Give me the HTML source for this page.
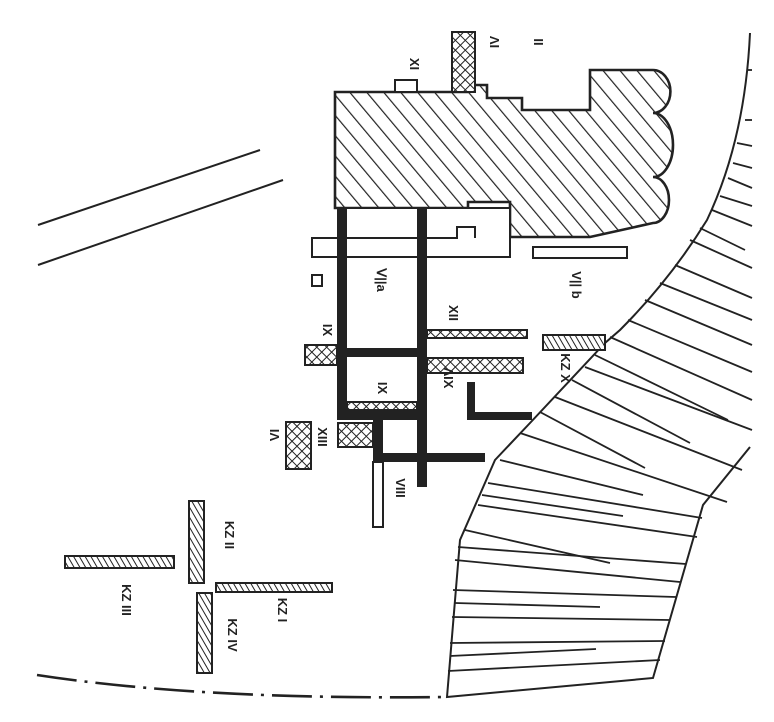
<!DOCTYPE html>
<html><head><meta charset="utf-8"><style>
html,body{margin:0;padding:0;background:#fff}
svg{display:block}
text{font-family:"Liberation Sans",sans-serif;font-weight:bold;font-size:13px;fill:#222}
</style></head><body>
<svg width="774" height="722" viewBox="0 0 774 722" xmlns="http://www.w3.org/2000/svg">
<defs>
<pattern id="diag" patternUnits="userSpaceOnUse" width="13" height="13" patternTransform="rotate(-40)">
<rect width="13" height="13" fill="#fff"/><line x1="0" y1="0" x2="0" y2="13" stroke="#222" stroke-width="2.4"/></pattern>
<pattern id="diag2" patternUnits="userSpaceOnUse" width="5" height="5" patternTransform="rotate(-30)">
<rect width="5" height="5" fill="#fff"/><line x1="0" y1="0" x2="0" y2="5" stroke="#222" stroke-width="2"/></pattern>
<pattern id="cross" patternUnits="userSpaceOnUse" width="7" height="7" patternTransform="rotate(45)">
<rect width="7" height="7" fill="#fff"/><line x1="0" y1="0" x2="0" y2="7" stroke="#222" stroke-width="2"/><line x1="0" y1="0" x2="7" y2="0" stroke="#222" stroke-width="2"/></pattern>
</defs>
<g stroke="#222" fill="none" stroke-width="2">
<line x1="38" y1="225" x2="260" y2="150"/>
<line x1="38" y1="265" x2="283" y2="180"/>
<path d="M37 675 Q200 700 445 697" stroke-dasharray="40 8 3 8" stroke-width="2.6"/>
<path d="M750 33 Q745 140 707 220 Q670 280 620 330 L605 343 L530 423 L495 460 L460 540 L447 697 L653 678 L703 505 L750 447" />
<g stroke-width="1.8">
<line x1="748" y1="70" x2="752" y2="70"/>
<line x1="745" y1="120" x2="752" y2="120"/>
<line x1="737" y1="143" x2="752" y2="146"/>
<line x1="733" y1="163" x2="752" y2="168"/>
<line x1="728" y1="178" x2="752" y2="188"/>
<line x1="720" y1="196" x2="752" y2="206"/>
<line x1="712" y1="210" x2="752" y2="226"/>
<line x1="700" y1="228" x2="745" y2="250"/>
<line x1="690" y1="240" x2="752" y2="268"/>
<line x1="675" y1="265" x2="752" y2="298"/>
<line x1="660" y1="283" x2="752" y2="320"/>
<line x1="645" y1="300" x2="752" y2="345"/>
<line x1="628" y1="320" x2="752" y2="372"/>
<line x1="610" y1="337" x2="752" y2="400"/>
<line x1="595" y1="355" x2="728" y2="420"/>
<line x1="585" y1="367" x2="752" y2="430"/>
<line x1="572" y1="380" x2="690" y2="443"/>
<line x1="555" y1="397" x2="742" y2="470"/>
<line x1="540" y1="412" x2="645" y2="468"/>
<line x1="520" y1="433" x2="727" y2="502"/>
<line x1="500" y1="460" x2="643" y2="495"/>
<line x1="488" y1="483" x2="702" y2="518"/>
<line x1="482" y1="495" x2="623" y2="516"/>
<line x1="478" y1="505" x2="697" y2="537"/>
<line x1="465" y1="530" x2="610" y2="563"/>
<line x1="458" y1="547" x2="686" y2="564"/>
<line x1="455" y1="560" x2="680" y2="582"/>
<line x1="453" y1="590" x2="676" y2="597"/>
<line x1="455" y1="603" x2="600" y2="607"/>
<line x1="452" y1="617" x2="670" y2="620"/>
<line x1="450" y1="643" x2="665" y2="641"/>
<line x1="450" y1="656" x2="596" y2="649"/>
<line x1="448" y1="671" x2="660" y2="660"/>
</g>
<path fill="url(#diag)" stroke-width="2.6" d="M335 92 L468 92 L468 85 L487 85 L487 98 L522 98 L522 110 L590 110 L590 70 L653 70 A17 21 0 0 1 653 113 A20 32 0 0 1 653 177 A16 23 0 0 1 653 223 L590 237 L510 237 L510 202 L468 202 L468 208 L335 208 Z"/>
<rect x="395" y="80" width="22" height="12" fill="#fff"/>
<rect x="452" y="32" width="23" height="60" fill="url(#cross)"/>
<path fill="#fff" d="M335 208 L510 208 L510 257 L312 257 L312 238 L457 238 L457 227 L475 227 L475 238"/>
<rect x="533" y="247" width="94" height="11" fill="#fff"/>
<rect x="312" y="275" width="10" height="11" fill="#fff"/>
<rect x="427" y="330" width="100" height="8" fill="url(#cross)"/>
<rect x="427" y="358" width="96" height="15" fill="url(#cross)"/>
<rect x="543" y="335" width="62" height="15" fill="url(#diag2)"/>
<rect x="305" y="345" width="32" height="20" fill="url(#cross)"/>
<rect x="347" y="402" width="70" height="8" fill="url(#cross)"/>
<rect x="338" y="423" width="35" height="24" fill="url(#cross)"/>
<rect x="286" y="422" width="25" height="47" fill="url(#cross)"/>
<rect x="373" y="462" width="10" height="65" fill="#fff"/>
<rect x="189" y="501" width="15" height="82" fill="url(#diag2)"/>
<rect x="65" y="556" width="109" height="12" fill="url(#diag2)"/>
<rect x="216" y="583" width="116" height="9" fill="url(#diag2)"/>
<rect x="197" y="593" width="15" height="80" fill="url(#diag2)"/>
</g>
<g fill="#222">
<rect x="337" y="208" width="10" height="212"/>
<rect x="417" y="208" width="10" height="279"/>
<rect x="337" y="348" width="90" height="9"/>
<rect x="337" y="410" width="90" height="10"/>
<rect x="373" y="420" width="10" height="43"/>
<rect x="373" y="453" width="112" height="9"/>
<rect x="467" y="382" width="8" height="38"/>
<rect x="467" y="412" width="65" height="8"/>
</g>
<g>
<text transform="translate(490,42) rotate(90)" text-anchor="middle">ΛI</text>
<text transform="translate(534,42) rotate(90)" text-anchor="middle">II</text>
<text transform="translate(410,64) rotate(90)" text-anchor="middle">XI</text>
<text transform="translate(377,280) rotate(90)" text-anchor="middle">Ⅴ||a</text>
<text transform="translate(572,285) rotate(90)" text-anchor="middle">V|| b</text>
<text transform="translate(449,313) rotate(90)" text-anchor="middle">XII</text>
<text transform="translate(323,330) rotate(90)" text-anchor="middle">IX</text>
<text transform="translate(561,368) rotate(90)" text-anchor="middle">KZ X</text>
<text transform="translate(444,378) rotate(90)" text-anchor="middle">ΛIX</text>
<text transform="translate(378,388) rotate(90)" text-anchor="middle">IX</text>
<text transform="translate(318,437) rotate(90)" text-anchor="middle">XIII</text>
<text transform="translate(270,435) rotate(90)" text-anchor="middle">IΛ</text>
<text transform="translate(396,488) rotate(90)" text-anchor="middle">VIII</text>
<text transform="translate(225,535) rotate(90)" text-anchor="middle">KZ II</text>
<text transform="translate(122,600) rotate(90)" text-anchor="middle">KZ III</text>
<text transform="translate(278,610) rotate(90)" text-anchor="middle">KZ I</text>
<text transform="translate(228,635) rotate(90)" text-anchor="middle">KZ IV</text>
</g>
</svg>
</body></html>
